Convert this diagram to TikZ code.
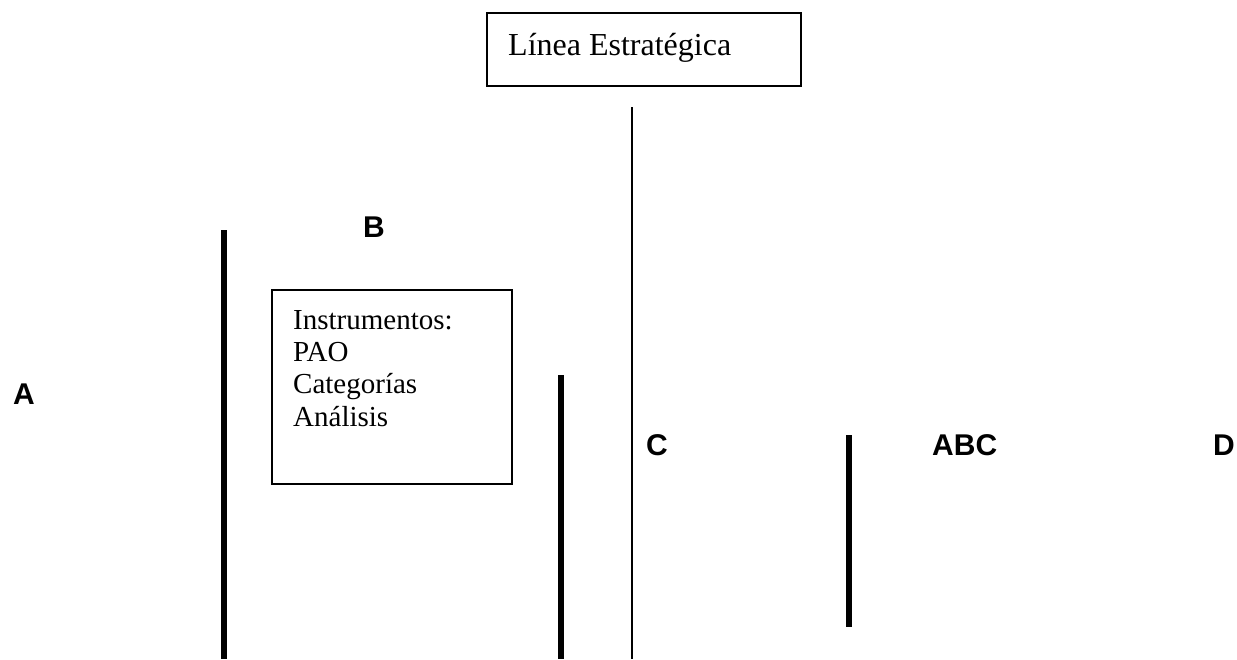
\documentclass[tikz,border=0pt]{standalone}
\usepackage{fontspec}
\setmainfont{Liberation Serif}
\setsansfont{Liberation Sans}
\usepackage{tikz}

\begin{document}
\begin{tikzpicture}[x = 1pt, y = -1pt,
        frame/.style = {draw, line width = 1.3pt, inner sep = 0pt},
        serif/.style = {font = \fontsize{29}{32.4}\selectfont, inner sep = 0pt},
        letter/.style = {font = \sffamily\bfseries\fontsize{30}{36}\selectfont, inner sep = 0pt},
        bar/.style = {line width = 6pt},
        thin/.style = {line width = 1.5pt}]
        \useasboundingbox (0,0) rectangle (1237,659);

        \node (lineabox) [frame, minimum width = 314pt, minimum height = 73pt] at (644,49.5) {};
        \node (linea) [serif, font = \fontsize{32}{36}\selectfont, anchor = base west] at (508,55) {Línea Estratégica};

        \node (instrbox) [frame, minimum width = 240pt, minimum height = 194pt] at (392,387) {};
        \node (instr) [serif, anchor = north west, align = left] at (293,310) {Instrumentos:\\PAO\\Categorías\\Análisis};

        \node (A) [letter, anchor = base west] at (13,404) {A};
        \node (B) [letter, anchor = base west] at (363,237) {B};
        \node (C) [letter, anchor = base west] at (646,455) {C};
        \node (ABC) [letter, anchor = base west] at (932,455) {ABC};
        \node (D) [letter, anchor = base west] at (1213,455) {D};

        \coordinate (axis top) at (632,107);
        \coordinate (axis bot) at (632,659);
        \coordinate (left top) at (224,230);
        \coordinate (left bot) at (224,659);
        \coordinate (mid top) at (560.5,375);
        \coordinate (mid bot) at (560.5,659);
        \coordinate (right top) at (849,435);
        \coordinate (right bot) at (849,627);

        \draw [thin] (axis top) -- (axis bot);
        \draw [bar] (left top) -- (left bot);
        \draw [bar] (mid top) -- (mid bot);
        \draw [bar] (right top) -- (right bot);
    \end{tikzpicture}
\end{document}
